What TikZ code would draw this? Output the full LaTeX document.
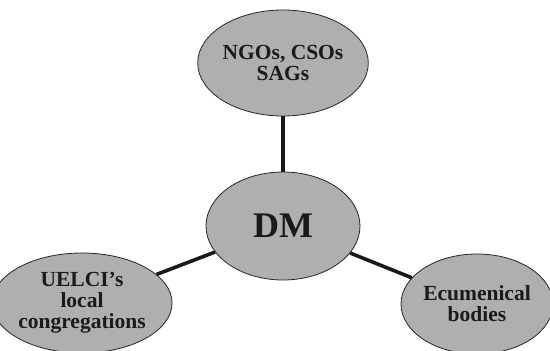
\documentclass[tikz,border=0pt]{standalone}
\usepackage{fontspec}
\setmainfont{Liberation Serif}
\usetikzlibrary{shapes.geometric}
\definecolor{ellgray}{HTML}{AFAFAF}
\definecolor{txtdark}{HTML}{1A1A1A}
\tikzset{
  blob/.style={ellipse, draw=black!85, line width=0.8pt, fill=ellgray, inner sep=0pt,
    text=txtdark, font=\bfseries\fontsize{21.5}{21}\selectfont, align=center},
  link/.style={line width=3.6pt, draw=black!90}
}
\begin{document}
\begin{tikzpicture}[x=1pt,y=-1pt]
\useasboundingbox (0,0) rectangle (550,351);
\node[blob, minimum width=153pt, minimum height=106pt] (top) at (283,63) {NGOs, CSOs\\SAGs};
\node[blob, minimum width=154pt, minimum height=108pt, font=\bfseries\fontsize{36}{38}\selectfont] (dm) at (283,226) {DM};
\node[blob, minimum width=153pt, minimum height=100pt] (left) at (82,303) {UELCI’s\\local\\congregations};
\node[blob, minimum width=146pt, minimum height=100pt] (right) at (477,304) {Ecumenical\\bodies};
\draw[link] (top) -- (dm);
\draw[link] (dm) -- (left);
\draw[link] (dm) -- (right);
\end{tikzpicture}
\end{document}
